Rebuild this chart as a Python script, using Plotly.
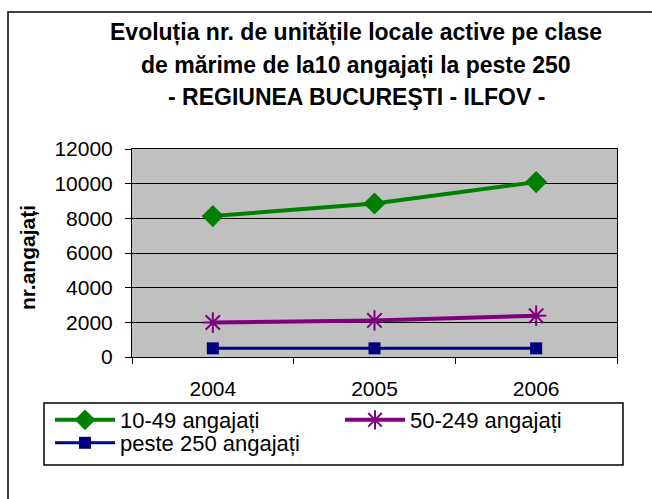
import plotly.graph_objects as go

years = ["2004", "2005", "2006"]
s_10_49 = [8130, 8860, 10090]
s_50_249 = [1990, 2110, 2380]
s_250 = [500, 500, 500]
names = ["10-49 angajați", "50-249 angajați", "peste 250 angajați"]
y_ticks = [0, 2000, 4000, 6000, 8000, 10000, 12000]

W, H = 652, 499
L, R, T, B = 132, 35, 149, 142
PW, PH = W - L - R, H - T - B

def px(x):
    return (x - L) / PW

def py(y):
    return (H - B - y) / PH

FONT = "Arial, 'Liberation Sans', sans-serif"

fig = go.Figure()
fig.add_trace(go.Scatter(x=years, y=s_10_49, name=names[0], mode="lines+markers",
                         line=dict(color="#008000", width=4), legend="legend",
                         marker=dict(symbol="diamond", size=17, color="#008000")))
fig.add_trace(go.Scatter(x=years, y=s_50_249, name=names[1], mode="lines+markers",
                         line=dict(color="#800080", width=4), legend="legend",
                         marker=dict(symbol="asterisk", size=17, color="#800080",
                                     line=dict(color="#800080", width=2))))
fig.add_trace(go.Scatter(x=years, y=s_250, name=names[2], mode="lines+markers",
                         line=dict(color="#000080", width=3), legend="legend2",
                         marker=dict(symbol="square", size=12, color="#000080")))

title_lines = ["Evoluția nr. de unitățile locale active pe clase",
               "de mărime de la10 angajați la peste 250",
               "- REGIUNEA BUCUREŞTI - ILFOV -"]
title_y = [32, 65, 97]
for t, yy in zip(title_lines, title_y):
    fig.add_annotation(text="<b>" + t + "</b>", xref="paper", yref="paper",
                       x=px(356), y=py(yy), xanchor="center", yanchor="middle",
                       showarrow=False, font=dict(family=FONT, size=23, color="black"))

fig.add_annotation(text="<b>nr.angajați</b>", xref="paper", yref="paper",
                   x=px(27), y=py(258), textangle=-90, xanchor="center", yanchor="middle",
                   showarrow=False, font=dict(family=FONT, size=21, color="black"))

# outer frame
fig.add_shape(type="rect", xref="paper", yref="paper",
              x0=px(8), x1=px(700), y0=py(560), y1=py(12),
              line=dict(color="black", width=1.5), layer="below")
# legend box
fig.add_shape(type="rect", xref="paper", yref="paper",
              x0=px(44), x1=px(623), y0=py(465), y1=py(403),
              line=dict(color="black", width=1.5))

leg_common = dict(orientation="h", xanchor="left", yanchor="middle",
                  bgcolor="rgba(0,0,0,0)", borderwidth=0,
                  entrywidth=215, entrywidthmode="pixels",
                  font=dict(family=FONT, size=22, color="black"),
                  itemwidth=60)

fig.update_layout(
    width=W, height=H,
    margin=dict(l=L, r=R, t=T, b=B, autoexpand=False),
    paper_bgcolor="white", plot_bgcolor="#C0C0C0",
    font=dict(family=FONT, size=21, color="black"),
    showlegend=True,
    legend=dict(x=px(50), y=py(420), **leg_common),
    legend2=dict(x=px(50), y=py(443), **leg_common),
    xaxis=dict(type="category", range=[-0.5, 2.5], tickson="boundaries",
               ticks="outside", ticklen=6, tickcolor="black", tickwidth=1,
               showline=True, linecolor="black", linewidth=1, mirror=True,
               showgrid=False, ticklabelstandoff=13,
               tickfont=dict(family=FONT, size=21, color="black")),
    yaxis=dict(range=[0, 12000], tickvals=y_ticks, ticktext=[str(v) for v in y_ticks],
               ticks="outside", ticklen=6, tickcolor="black", tickwidth=1,
               showline=True, linecolor="black", linewidth=1, mirror=True,
               showgrid=True, gridcolor="black", gridwidth=1, zeroline=False,
               ticklabelstandoff=8,
               tickfont=dict(family=FONT, size=21, color="black")),
)

fig.write_html("out.html", config={"displayModeBar": False},
               post_script="document.body.style.margin='0';")
